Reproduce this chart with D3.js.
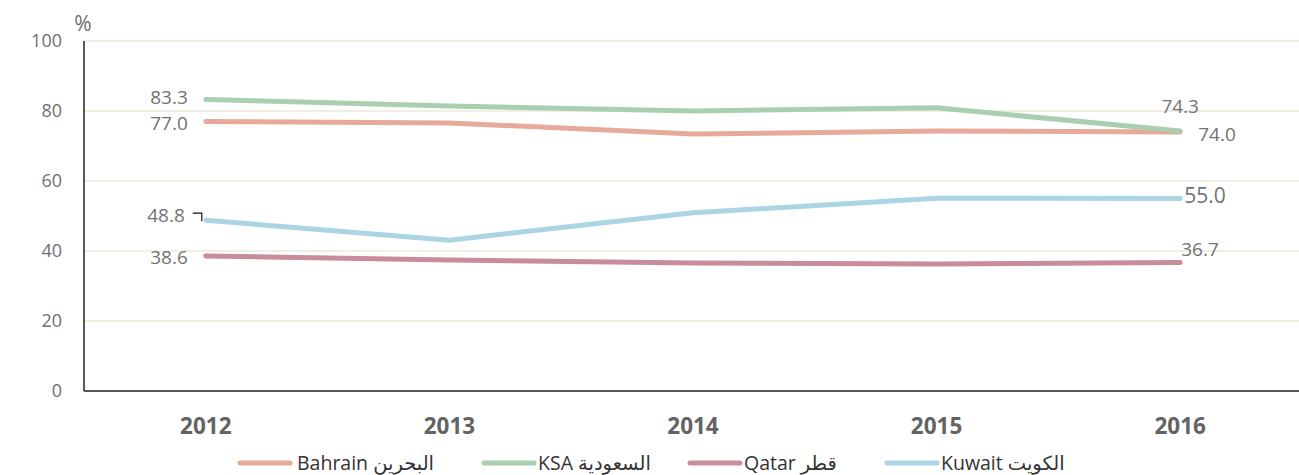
<!DOCTYPE html>
<html>
<head>
<meta charset="utf-8">
<script src="https://cdn.jsdelivr.net/npm/d3@7"></script>
<style>
  body { margin: 0; background: #fff; }
  text { font-family: "Open Sans", "Noto Sans", "DejaVu Sans", sans-serif; }
</style>
</head>
<body>
<div id="chart"></div>
<script>
// data
const years = ["2012", "2013", "2014", "2015", "2016"];
const bahrain = [77.0, 76.6, 73.4, 74.3, 74.0];
const ksa = [83.3, 81.4, 80.0, 80.9, 74.3];
const qatar = [38.6, 37.4, 36.6, 36.3, 36.7];
const kuwait = [48.8, 43.1, 50.9, 55.1, 55.0];
const yTicks = [0, 20, 40, 60, 80, 100];

const series = [
    { name: "Bahrain البحرين", values: bahrain, color: "#e8a99b" },
    { name: "KSA السعودية", values: ksa, color: "#aacfb0" },
    { name: "Qatar قطر", values: qatar, color: "#c98c9b" },
    { name: "Kuwait الكويت", values: kuwait, color: "#abd4e5" }
];

const width = 1299, height = 475;
const margin = { left: 84, right: -3, top: 41, bottom: 84 };

const svg = d3.select("#chart")
    .append("svg")
        .attr("width", width)
        .attr("height", height);

const x = d3.scaleBand()
    .domain(years)
    .range([margin.left, width - margin.right]);
const y = d3.scaleLinear()
    .domain([0, 100])
    .range([height - margin.bottom, margin.top]);
const cx = function (yr) { return x(yr) + x.bandwidth() / 2; };

// gridlines
svg.append("g")
    .selectAll("line")
    .data(yTicks.filter(function (t) { return t > 0; }))
    .enter()
    .append("line")
        .attr("x1", margin.left)
        .attr("x2", width - margin.right)
        .attr("y1", function (d) { return y(d); })
        .attr("y2", function (d) { return y(d); })
        .attr("stroke", "#ece8da")
        .attr("stroke-width", 1.3);

// y tick labels
svg.append("g")
    .selectAll("text")
    .data(yTicks)
    .enter()
    .append("text")
        .attr("x", 62)
        .attr("y", function (d) { return y(d); })
        .attr("dy", "0.35em")
        .attr("text-anchor", "end")
        .attr("font-size", 18)
        .attr("fill", "#6f6f6f")
        .text(function (d) { return d; });

svg.append("text")
    .attr("x", 83)
    .attr("y", 31)
    .attr("text-anchor", "middle")
    .attr("font-size", 21)
    .attr("fill", "#6f6f6f")
    .text("%");

// axes lines
svg.append("line")
    .attr("x1", margin.left).attr("x2", margin.left)
    .attr("y1", y(100)).attr("y2", y(0))
    .attr("stroke", "#222").attr("stroke-width", 1.5);
svg.append("line")
    .attr("x1", margin.left).attr("x2", width - margin.right)
    .attr("y1", y(0)).attr("y2", y(0))
    .attr("stroke", "#222").attr("stroke-width", 1.5);

// x labels
svg.append("g")
    .selectAll("text")
    .data(years)
    .enter()
    .append("text")
        .attr("x", function (d) { return cx(d); })
        .attr("y", 434)
        .attr("text-anchor", "middle")
        .attr("font-size", 22.5)
        .attr("font-weight", "bold")
        .attr("fill", "#636363")
        .text(function (d) { return d; });

// lines
const line = d3.line()
    .x(function (d, i) { return cx(years[i]); })
    .y(function (d) { return y(d); });

svg.append("g")
    .selectAll("path")
    .data(series)
    .enter()
    .append("path")
        .attr("d", function (s) { return line(s.values); })
        .attr("fill", "none")
        .attr("stroke", function (s) { return s.color; })
        .attr("stroke-width", 5)
        .attr("stroke-linecap", "round")
        .attr("stroke-linejoin", "round");

// data labels: [series values, index, dx, dy, anchor, size]
const labels = [
    [ksa, 0, -18, -2, "end", 19],
    [bahrain, 0, -18, 2, "end", 19],
    [kuwait, 0, -21, -5, "end", 19],
    [qatar, 0, -18, 1, "end", 19],
    [ksa, 4, 0, -25, "middle", 19],
    [bahrain, 4, 18, 2, "start", 19],
    [kuwait, 4, 4, -3, "start", 21],
    [qatar, 4, 1, -13, "start", 19]
];
svg.append("g")
    .selectAll("text")
    .data(labels)
    .enter()
    .append("text")
        .attr("x", function (d) { return cx(years[d[1]]) + d[2]; })
        .attr("y", function (d) { return y(d[0][d[1]]) + d[3]; })
        .attr("dy", "0.35em")
        .attr("text-anchor", function (d) { return d[4]; })
        .attr("font-size", function (d) { return d[5]; })
        .attr("fill", "#737373")
        .text(function (d) { return d[0][d[1]].toFixed(1); });

// leader line for 48.8
const lx = cx(years[0]), ly = y(kuwait[0]);
svg.append("path")
    .attr("d", "M" + (lx - 13) + "," + (ly - 7) + "H" + (lx - 4) + "V" + (ly + 1))
    .attr("fill", "none")
    .attr("stroke", "#111")
    .attr("stroke-width", 1.2);

// legend
const legendX = [240, 484, 690, 887];
const legend = svg.append("g")
    .selectAll("g")
    .data(series)
    .enter()
    .append("g")
        .attr("transform", function (d, i) { return "translate(" + legendX[i] + ",463)"; });
legend.append("line")
    .attr("x1", 0).attr("x2", 50)
    .attr("stroke", function (d) { return d.color; })
    .attr("stroke-width", 5)
    .attr("stroke-linecap", "round");
legend.append("text")
    .attr("x", function (d, i) { return i == 0 ? 57 : 54; })
    .attr("dy", "0.35em")
    .attr("font-size", 19.5)
    .attr("fill", "#333")
    .text(function (d) { return d.name; });
</script>
</body>
</html>
